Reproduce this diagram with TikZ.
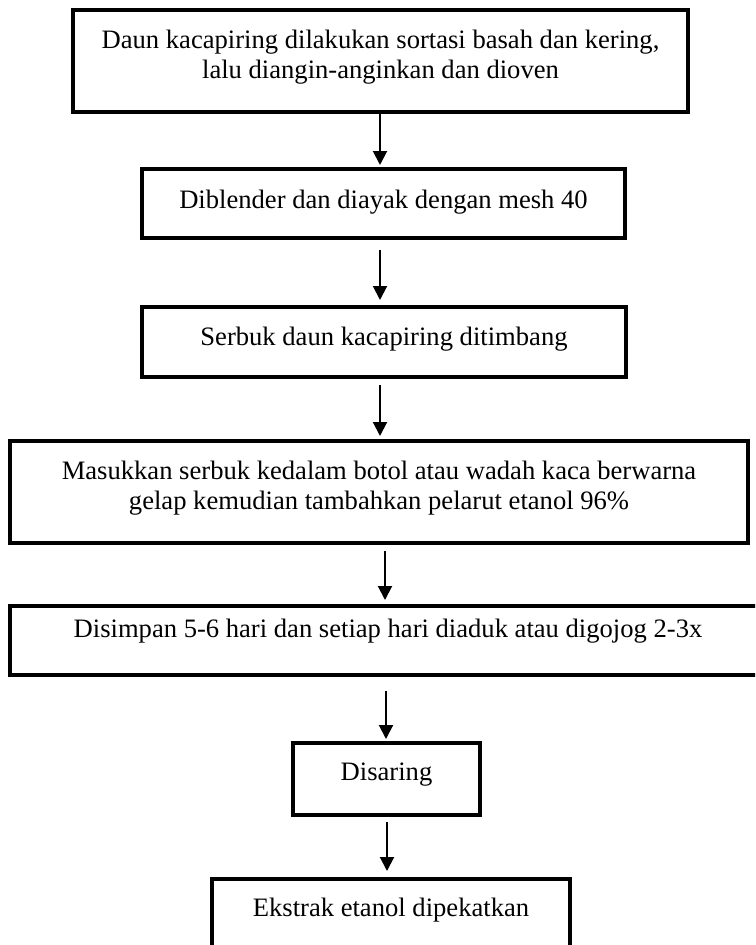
\documentclass[tikz,border=0pt]{standalone}
\usepackage{fontspec}
\setmainfont{Liberation Serif}
\usetikzlibrary{arrows.meta}
\begin{document}
\begin{tikzpicture}[x=1pt,y=-1pt,
  box/.style={draw, line width=4pt, inner sep=0pt},
  lbl/.style={font=\fontsize{26.6}{30}\selectfont, align=center, inner sep=0pt},
  arr/.style={line width=2pt, -{Triangle[length=14pt,width=14pt]}}]
\clip (0,0) rectangle (755,945);
\fill[white] (0,0) rectangle (755,945);
% boxes
\node[box, minimum width=615pt, minimum height=102pt] (b1) at (380.5,61) {};
\node[box, minimum width=483pt, minimum height=69pt] (b2) at (383.5,203.5) {};
\node[box, minimum width=484pt, minimum height=70pt] (b3) at (384,342) {};
\node[box, minimum width=738pt, minimum height=102pt] (b4) at (379,492) {};
\node[box, minimum width=756pt, minimum height=69pt] (b5) at (388,640.5) {};
\node[box, minimum width=187pt, minimum height=72pt] (b6) at (386.5,779) {};
\node[box, minimum width=358pt, minimum height=70pt] (b7) at (391,914) {};
% texts
\node[lbl] (t1) at ([yshift=3.5pt]b1.center) {Daun kacapiring dilakukan sortasi basah dan kering,\\ lalu diangin-anginkan dan dioven};
\node[lbl] (t2) at ([yshift=1.5pt]b2.center) {Diblender dan diayak dengan mesh 40};
\node[lbl] (t3) at ([yshift=3pt]b3.center) {Serbuk daun kacapiring ditimbang};
\node[lbl] (t4) at ([yshift=4pt]b4.center) {Masukkan serbuk kedalam botol atau wadah kaca berwarna\\ gelap kemudian tambahkan pelarut etanol 96\%};
\node[lbl] (t5) at ([yshift=9pt]b5.center) {Disimpan 5-6 hari dan setiap hari diaduk atau digojog 2-3x};
\node[lbl] (t6) at ([yshift=4pt]b6.center) {Disaring};
\node[lbl] (t7) at ([yshift=4pt]b7.center) {Ekstrak etanol dipekatkan};
% arrows
\draw[arr] ([xshift=-0.5pt]b1.south) -- ([xshift=-3.5pt,yshift=2pt]b2.north);
\draw[arr] ([xshift=-3.5pt,yshift=-10pt]b2.south) -- ([xshift=-4pt,yshift=5pt]b3.north);
\draw[arr] ([xshift=-4pt,yshift=-6pt]b3.south) -- ([xshift=1pt,yshift=3pt]b4.north);
\draw[arr] ([xshift=6pt,yshift=-6pt]b4.south) -- ([xshift=-3pt,yshift=4pt]b5.north);
\draw[arr] ([xshift=-2pt,yshift=-14pt]b5.south) -- ([xshift=-0.5pt,yshift=2pt]b6.north);
\draw[arr] ([xshift=0.5pt,yshift=-5pt]b6.south) -- ([xshift=-4pt,yshift=6pt]b7.north);
\end{tikzpicture}
\end{document}
